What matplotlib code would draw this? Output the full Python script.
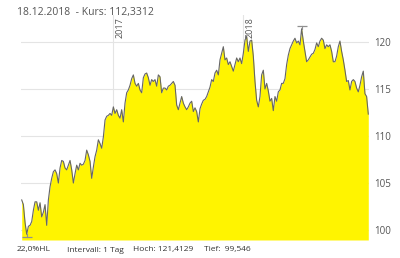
import matplotlib
matplotlib.use('Agg')
import matplotlib.pyplot as plt
import pandas as pd

start = '2016-04-20'
ende = '2018-12-18'
kurs = [
    103.2, 102.7, 100.8, 99.55, 100.4, 100.5, 100.9, 102.1, 103.0, 103.0,
    102.1, 102.9, 101.4, 101.9, 102.7, 100.5, 103.2, 104.6, 105.5, 106.2,
    106.4, 106.0, 105.0, 106.6, 107.4, 107.3, 106.6, 106.4, 106.9, 107.4,
    106.4, 105.0, 106.0, 106.9, 106.4, 107.1, 106.9, 107.0,
    107.4, 108.5, 108.0, 107.3, 105.5, 106.7, 107.8, 108.5, 109.6, 109.2,
    108.7, 109.9, 111.7, 112.1, 112.2, 112.4, 112.2, 113.1, 112.4, 112.8,
    112.2, 111.9, 112.8, 111.5, 113.5, 114.6, 114.9, 115.4, 116.1, 116.5,
    115.6, 115.3, 115.6, 114.9, 114.6, 116.2, 116.6, 116.7, 116.2,
    115.4, 116.0, 115.8, 116.0, 115.3, 116.5, 116.3, 114.6, 115.1, 115.1,
    114.9, 115.3, 115.4, 115.6, 115.8, 115.4, 113.3, 112.8, 113.5, 114.2,
    113.5, 113.1, 112.8, 113.1, 113.5, 113.7, 112.6, 113.0, 112.6, 111.5,
    112.9, 113.4, 113.8, 113.9, 114.2, 114.7, 115.2, 116.0, 115.8, 116.7,
    117.0, 116.5, 118.1, 118.8, 119.5, 118.1, 118.3, 117.6, 117.9, 117.4,
    116.9, 117.6, 118.3, 117.9, 118.3, 117.7, 118.8, 120.2, 120.6, 119.0,
    120.1, 120.2, 118.5, 115.8, 113.8, 113.1, 114.2, 116.5, 117.0, 115.0,
    115.6, 114.8,
    113.7, 114.0, 112.7, 114.2, 113.7, 114.7, 114.9, 115.6, 115.6, 116.1,
    117.6, 118.6, 119.3, 119.7, 120.1, 120.4, 119.9, 120.1, 119.7, 121.41,
    120.1, 119.0, 117.9, 118.1,
    118.4, 118.7, 118.8, 119.2, 119.9, 119.5, 120.1, 120.4, 120.2, 119.3,
    119.7, 119.5, 119.7, 119.0, 117.9, 117.9, 118.5, 119.5, 120.1, 119.0,
    118.1, 117.0, 115.8, 115.9, 114.9, 115.8, 116.0, 115.8, 115.1, 114.7,
    115.4, 116.3, 116.9, 114.5, 114.2, 112.33,
]
jahre = ['2017', '2018']
y_ticks = [100, 105, 110, 115, 120]

kopf = '18.12.2018  - Kurs: 112,3312'
fuss = ['22,0%HL', 'Intervall: 1 Tag', 'Hoch: 121,4129', 'Tief:  99,546']
fuss_x = [17, 67, 133, 204]

datum = pd.date_range(start, ende, periods=len(kurs))
s = pd.Series(kurs, index=datum)

plt.rcParams['font.family'] = ['Open Sans', 'DejaVu Sans']

fig = plt.figure(figsize=(4, 2.58), dpi=100)
ax = fig.add_axes([0.0525, 0.0698, 0.87, 0.872])

unten = 98.94
ax.fill_between(s.index, s.values, unten, color='#fff400', linewidth=0, zorder=2)
ax.plot(s.index, s.values, color='#666666', linewidth=0.8, zorder=3)

# Hoch / Tief Markierungen
hi_d, hi_v = s.idxmax(), s.max()
lo_d, lo_v = s.idxmin(), s.min()
ax.plot([hi_d, hi_d], [hi_v, hi_v + 0.3], color='#909090', lw=0.8, zorder=4)
ax.plot([hi_d], [hi_v + 0.3], marker='_', ms=7, color='#909090', mew=0.9, zorder=4)
ax.plot([lo_d, lo_d], [lo_v, lo_v - 0.3], color='#909090', lw=0.8, zorder=4)
ax.plot([lo_d], [lo_v - 0.3], marker='_', ms=7, color='#909090', mew=0.9, zorder=4)

ax.set_xlim(pd.Timestamp('2016-04-18'), pd.Timestamp('2018-12-20'))
ax.set_ylim(unten, 122.87)

for j in jahre:
    d = pd.Timestamp(j + '-01-01')
    ax.axvline(d, color='#e4e4e4', lw=0.8, zorder=1)
    ax.text(d + pd.Timedelta(days=6), 122.6, j, rotation=90, ha='left', va='top',
            fontsize=6.5, color='#555555')

ax.set_yticks(y_ticks)
ax.yaxis.tick_right()
ax.tick_params(axis='y', length=0, pad=4, labelsize=7, labelcolor='#555555')
ax.set_xticks([])
ax.grid(axis='y', color='#e4e4e4', lw=0.8, zorder=1)
ax.set_axisbelow(True)
for sp in ax.spines.values():
    sp.set_visible(False)

fig.text(17 / 400, 1 - 12 / 258, kopf, fontsize=7.5, color='#555555', va='center')
for t, x in zip(fuss, fuss_x):
    fig.text(x / 400, 1 - 250 / 258, t, fontsize=6, color='#333333', va='center')

fig.savefig('out.png', dpi=100)
